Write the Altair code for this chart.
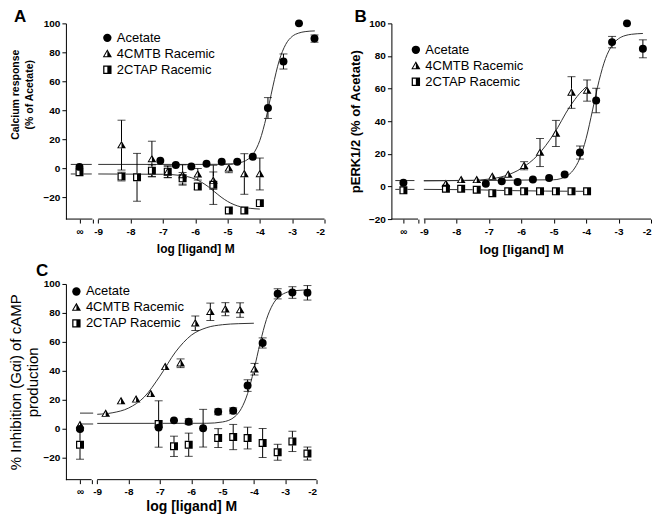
import altair as alt
import pandas as pd

SERIES = ["Acetate", "4CMTB Racemic", "2CTAP Racemic"]
FONT = "Liberation Sans"

# ---------------- Panel A : calcium response ----------------
A_ace_x = [-9.58, -7.08, -6.6, -6.12, -5.65, -5.18, -4.7, -4.22, -3.75, -3.27, -2.79, -2.31]
A_ace_y = [1.0, 5.2, 2.3, 1.2, 3.2, 4.6, 4.6, 8.0, 41.6, 73.7, 100.0, 89.5]
A_ace_e = [0, 0, 0, 0, 0, 0, 0, 0, 7.2, 5.2, 0, 2.5]
A_cmt_x = [-8.28, -7.34, -6.85, -6.39, -5.92, -5.44, -4.96, -4.48, -4.0]
A_cmt_y = [16.0, 6.4, -2.5, -4.6, -4.1, -8.5, 0.0, -3.9, -3.9]
A_cmt_e = [17.2, 12.3, 4.0, 7.0, 4.0, 6.0, 3.0, 14.0, 11.0]
A_cta_x = [-9.58, -8.28, -7.8, -7.34, -6.85, -6.39, -5.92, -5.44, -4.96, -4.48, -4.0]
A_cta_y = [-2.7, -5.7, -6.2, -1.6, -2.3, -6.9, -12.6, -11.4, -29.1, -29.1, -24.0]
A_cta_e = [0, 3, 16.5, 4, 4, 4, 2, 13.5, 0, 0, 0]
A_fit_ace_x = [-9, -6, -5, -4.6, -4.4, -4.2, -4.0, -3.8, -3.6, -3.4, -3.2, -3.0, -2.8, -2.6, -2.3]
A_fit_ace_y = [2.7, 2.7, 2.8, 4.0, 5.8, 10.1, 19.3, 35.4, 56.2, 74.4, 85.5, 91.0, 93.3, 94.3, 94.8]
A_fit_cta_x = [-9, -7, -6.5, -6.0, -5.6, -5.4, -5.2, -5.0, -4.6, -4.0]
A_fit_cta_y = [-3.9, -4.1, -4.8, -7.4, -12.6, -16.2, -19.8, -22.8, -26.5, -28.1]
A_inf_seg_x = [-9.85, -9.2]
A_inf_seg_y = [2.7, -3.9]

# ---------------- Panel B : pERK1/2 ----------------
B_ace_x = [-9.63, -7.09, -6.6, -6.11, -5.64, -5.14, -4.66, -4.19, -3.69, -3.2, -2.74, -2.25]
B_ace_y = [2.2, 1.6, 3.2, 2.8, 4.2, 5.2, 7.3, 20.8, 52.7, 88.5, 100.0, 84.4]
B_ace_e = [0, 0, 0, 0, 0, 0, 0, 4.0, 7.5, 3.5, 0, 5.5]
B_cmt_x = [-8.32, -7.85, -7.37, -6.89, -6.4, -5.91, -5.42, -4.93, -4.45, -3.97]
B_cmt_y = [1.6, 4.0, 4.0, 6.0, 7.3, 12.7, 20.8, 32.5, 57.6, 58.8]
B_cmt_e = [0, 0, 0, 0, 0, 2.5, 8.6, 8.0, 9.7, 6.5]
B_cta_x = [-9.63, -8.32, -7.85, -7.37, -6.89, -6.4, -5.91, -5.42, -4.93, -4.45, -3.97]
B_cta_y = [-2.4, -1.4, -1.4, -2.0, -4.1, -3.0, -3.0, -3.0, -3.0, -3.0, -3.0]
B_cta_e = [0, 0, 0, 0, 0, 0, 0, 0, 0, 0, 0]
B_fit_ace_x = [-9, -5, -4.6, -4.4, -4.2, -4.0, -3.8, -3.6, -3.4, -3.2, -3.0, -2.8, -2.6, -2.25]
B_fit_ace_y = [3.5, 4.1, 6.4, 9.9, 17.0, 29.4, 46.9, 64.9, 78.5, 86.5, 90.6, 92.5, 93.3, 93.8]
B_fit_cmt_x = [-9, -7.5, -7, -6.5, -6, -5.5, -5, -4.5, -4.2, -4.0]
B_fit_cmt_y = [3.5, 3.8, 4.5, 6.5, 11.0, 19.0, 32.0, 49.0, 57.0, 61.0]
B_fit_cta_x = [-9, -7.5, -6.5, -4.0]
B_fit_cta_y = [-1.8, -2.0, -2.5, -3.0]
B_inf_seg_x = [-9.88, -9.29]
B_inf_seg_y = [3.6, -1.8]

# ---------------- Panel C : cAMP inhibition ----------------
C_ace_x = [-9.55, -7.04, -6.55, -6.08, -5.62, -5.14, -4.66, -4.2, -3.72, -3.24, -2.77, -2.29]
C_ace_y = [0.0, 0.9, 5.9, 5.0, 0.5, 11.8, 12.5, 29.9, 59.3, 93.2, 94.1, 93.9]
C_ace_e = [0, 0, 0, 2, 13, 2, 2, 4, 3.5, 3.5, 4, 5]
C_cmt_x = [-9.55, -8.73, -8.24, -7.76, -7.29, -6.83, -6.34, -5.87, -5.39, -4.91, -4.44, -3.98]
C_cmt_y = [2.7, 10.6, 19.2, 20.4, 24.2, 42.8, 45.3, 72.9, 80.8, 82.6, 82.0, 41.2]
C_cmt_e = [0, 0, 0, 0, 0, 0, 3, 5, 6, 4.5, 5, 4]
C_cta_x = [-9.55, -7.04, -6.55, -6.08, -5.14, -4.66, -4.2, -3.72, -3.24, -2.77, -2.29]
C_cta_y = [-10.9, 3.4, -12.0, -10.9, -6.3, -5.6, -6.3, -9.7, -16.1, -8.6, -17.0]
C_cta_e = [10, 16, 7, 8, 6.5, 8.7, 7.5, 10, 5.5, 7, 4.5]
C_fit_ace_x = [-9, -5.5, -5.0, -4.6, -4.4, -4.2, -4.0, -3.8, -3.6, -3.4, -3.2, -3.0, -2.7, -2.2]
C_fit_ace_y = [3.8, 3.9, 4.8, 8.6, 14.1, 24.4, 40.5, 59.3, 75.4, 85.7, 91.2, 93.8, 95.4, 95.9]
C_fit_cmt_x = [-9, -8.5, -8, -7.5, -7.0, -6.5, -6.0, -5.5, -5.0, -4.5, -4.0]
C_fit_cmt_y = [10.1, 11.2, 14.4, 22.0, 36.4, 53.1, 64.6, 69.9, 71.9, 72.6, 72.9]
C_inf_seg_x = [-9.55, -9.13]
C_inf_seg_y = [10.9, 3.4]

X_TICKS = [-9, -8, -7, -6, -5, -4, -3, -2]
Y_TICKS = [-20, 0, 20, 40, 60, 80, 100]

# half-filled marker shapes (outline on the left half, solid right half)
TRI_OUT = "M0,-1.1L1.1,0.8L-1.1,0.8Z"
TRI_HALF = TRI_OUT + " M0,-0.6L-0.7,0.58L0,0.58Z"
SQ_HALF = "M-1,-1L1,-1L1,1L-1,1Z M-0.7,-0.7L-0.7,0.7L0,0.7L0,-0.7Z"


def points_df(xs, ys, es, s):
    return pd.DataFrame({"x": xs, "y": ys, "err": es, "s": s})


def curve_df(xs, ys, cid):
    return pd.DataFrame({"x": xs, "y": ys, "cid": cid})


def panel(pts, curves, inf_x_seg, inf_y, inf_pos, ymin, w, h, letter, letter_xy,
          ytitle, yt_size, yt_weight, yt_lh, yt_y, yt_pad, xt_size, xt_weight, xt_pad,
          lab_size, leg_xy):
    pts["lo"] = pts["y"] - pts["err"]
    pts["hi"] = pts["y"] + pts["err"]
    errs = pts[pts["err"] > 0]
    segs = []
    for i, yv in enumerate(inf_y):
        segs.append(curve_df(inf_x_seg, [yv, yv], f"inf{i}"))
    cur = pd.concat(curves + segs, ignore_index=True)
    axis_seg = pd.DataFrame({"x": [-10, -9], "x2": [-9.18, -2], "y": [ymin, ymin]})

    xvals = [inf_pos, -9.18] + X_TICKS
    xaxis = alt.Axis(values=xvals,
                     labelExpr="datum.value < -9.4 ? '∞' : (datum.value < -9.05 ? '' : '' + datum.value)",
                     domain=False, grid=False, tickSize=4, tickColor="black",
                     labelFont=FONT, labelFontSize=lab_size, labelFontWeight="bold",
                     labelColor="black", labelPadding=3, titleFont=FONT,
                     titleFontSize=xt_size, titleFontWeight=xt_weight, titleColor="black",
                     titlePadding=xt_pad)
    yaxis_kw = dict(values=Y_TICKS, grid=False, tickSize=4, tickColor="black",
                    domainColor="black", labelFont=FONT, labelFontSize=lab_size,
                    labelFontWeight="bold", labelColor="black", labelPadding=2,
                    titleFont=FONT, titleFontSize=yt_size, titleFontWeight=yt_weight,
                    titleColor="black", titleLineHeight=yt_lh, titlePadding=yt_pad)
    if yt_y is not None:
        yaxis_kw["titleY"] = yt_y
    yaxis = alt.Axis(**yaxis_kw)
    xs = alt.Scale(domain=[-10, -2], nice=False, zero=False)
    ys = alt.Scale(domain=[ymin, 100], nice=False, zero=False)

    def X(f):
        return alt.X(f, type="quantitative", scale=xs, axis=xaxis, title="log [ligand] M")

    def Y(f):
        return alt.Y(f, type="quantitative", scale=ys, axis=yaxis, title=ytitle)

    seg_layer = alt.Chart(axis_seg).mark_rule(color="black", strokeWidth=1).encode(
        x=X("x"), x2="x2", y=Y("y"))
    line_layer = alt.Chart(cur).mark_line(color="#333333", strokeWidth=1,
                                          interpolate="monotone").encode(
        x=X("x"), y=Y("y"), detail="cid:N")
    err_rule = alt.Chart(errs).mark_rule(color="black", strokeWidth=1).encode(
        x=X("x"), y=Y("lo"), y2="hi")
    cap_lo = alt.Chart(errs).mark_tick(color="black", orient="horizontal", size=8,
                                       thickness=1).encode(x=X("x"), y=Y("lo"))
    cap_hi = alt.Chart(errs).mark_tick(color="black", orient="horizontal", size=8,
                                       thickness=1).encode(x=X("x"), y=Y("hi"))
    back_sq = alt.Chart(pts[pts["s"] == SERIES[2]]).mark_point(
        filled=True, fill="white", strokeWidth=0, size=64, opacity=1, shape="square").encode(
        x=X("x"), y=Y("y"))
    back_tri = alt.Chart(pts[pts["s"] == SERIES[1]]).mark_point(
        filled=True, fill="white", strokeWidth=0, size=64, opacity=1, shape=TRI_OUT).encode(
        x=X("x"), y=Y("y"))
    pt_layer = alt.Chart(pts).mark_point(filled=True, size=64, opacity=1, strokeWidth=0).encode(
        x=X("x"), y=Y("y"),
        color=alt.value("black"),
        shape=alt.Shape("s:N", scale=alt.Scale(domain=SERIES, range=["circle", TRI_HALF, SQ_HALF]),
                        legend=alt.Legend(orient="none", legendX=leg_xy[0], legendY=leg_xy[1],
                                          title=None, labelFont=FONT, labelFontSize=13,
                                          labelColor="black", symbolSize=70,
                                          symbolFillColor="black", symbolStrokeWidth=0,
                                          rowPadding=2, labelOffset=3, padding=0)))
    letter_layer = alt.Chart(pd.DataFrame({"t": [letter]})).mark_text(
        font=FONT, fontSize=17, fontWeight="bold", color="black", align="left",
        baseline="alphabetic").encode(
        text="t:N", x=alt.value(letter_xy[0]), y=alt.value(letter_xy[1]))
    return alt.layer(seg_layer, line_layer, err_rule, cap_lo, cap_hi, back_sq, back_tri,
                     pt_layer, letter_layer).properties(width=w, height=h)


A_pts = pd.concat([points_df(A_ace_x, A_ace_y, A_ace_e, SERIES[0]),
                   points_df(A_cmt_x, A_cmt_y, A_cmt_e, SERIES[1]),
                   points_df(A_cta_x, A_cta_y, A_cta_e, SERIES[2])], ignore_index=True)
B_pts = pd.concat([points_df(B_ace_x, B_ace_y, B_ace_e, SERIES[0]),
                   points_df(B_cmt_x, B_cmt_y, B_cmt_e, SERIES[1]),
                   points_df(B_cta_x, B_cta_y, B_cta_e, SERIES[2])], ignore_index=True)
C_pts = pd.concat([points_df(C_ace_x, C_ace_y, C_ace_e, SERIES[0]),
                   points_df(C_cmt_x, C_cmt_y, C_cmt_e, SERIES[1]),
                   points_df(C_cta_x, C_cta_y, C_cta_e, SERIES[2])], ignore_index=True)

chartA = panel(A_pts, [curve_df(A_fit_ace_x, A_fit_ace_y, "a"), curve_df(A_fit_cta_x, A_fit_cta_y, "c")],
               A_inf_seg_x, A_inf_seg_y, -9.58, -35, 259, 196, "A", (-52, -1),
               ["Calcium response", "(% of Acetate)"], 10.5, "bold", 15, 71, 8,
               12, "bold", 7, 10, (35, 8))
chartB = panel(B_pts, [curve_df(B_fit_ace_x, B_fit_ace_y, "a"), curve_df(B_fit_cmt_x, B_fit_cmt_y, "b"),
                       curve_df(B_fit_cta_x, B_fit_cta_y, "c")],
               B_inf_seg_x, B_inf_seg_y, -9.63, -20, 260, 196, "B", (-37, -1),
               "pERK1/2 (% of Acetate)", 13, "bold", 16, None, 6,
               13, "bold", 7, 10, (18, 20))
chartC = panel(C_pts, [curve_df(C_fit_ace_x, C_fit_ace_y, "a"), curve_df(C_fit_cmt_x, C_fit_cmt_y, "b")],
               C_inf_seg_x, C_inf_seg_y, -9.55, -35, 251, 196, "C", (-30, -8),
               ["% Inhibition (Gαi) of cAMP", "production"], 15, "normal", 18, None, 2,
               14, "bold", 3, 10, (4, 1))

top = alt.hconcat(chartA, chartB, spacing=24).resolve_scale(
    shape="independent", x="independent", y="independent").resolve_legend(shape="independent")
chart = alt.vconcat(top, chartC, spacing=6).resolve_scale(
    shape="independent", x="independent", y="independent").resolve_legend(
    shape="independent").properties(padding=0).configure_view(stroke=None)

chart.save("out.html", embed_options={"renderer": "svg", "actions": False})
